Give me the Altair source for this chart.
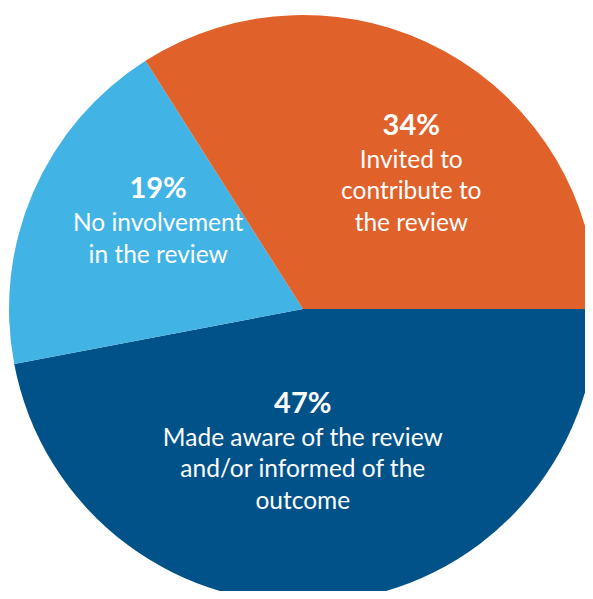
import math
import altair as alt
import pandas as pd

# Slices in drawing order (clockwise from 3 o'clock)
categories = ["Made aware", "No involvement", "Invited"]
values = [47, 19, 34]
descriptions = [
    "Made aware of the review\nand/or informed of the\noutcome",
    "No involvement\nin the review",
    "Invited to\ncontribute to\nthe review",
]
colors = ["#005289", "#41B3E5", "#E0612A"]

df = pd.DataFrame({
    "category": categories,
    "value": values,
    "pct": [f"{v}%" for v in values],
    "desc": descriptions,
})

CX, CY, R = 295, 301, 294
FONT = "Lato"

theta_scale = alt.Scale(domain=[0, 100], range=[math.pi / 2, math.pi / 2 + 2 * math.pi])
color_scale = alt.Scale(domain=categories, range=colors)

arcs = alt.Chart().mark_arc(radius=R, stroke=None).encode(
    x=alt.value(CX),
    y=alt.value(CY),
    theta=alt.Theta("start:Q", scale=theta_scale),
    theta2="end:Q",
    color=alt.Color("category:N", scale=color_scale, legend=None),
)

# label placement style per slice: (radius, dx, dy)
placement = {
    "Made aware": (104, -10, 0),
    "No involvement": (160, 2, -47),
    "Invited": (175, 24, -21),
}

layers = [arcs]
for cat in categories:
    rad, dx, dy = placement[cat]
    base = alt.Chart().transform_filter(alt.datum.category == cat)
    enc = dict(
        x=alt.value(CX),
        y=alt.value(CY),
        theta=alt.Theta("mid:Q", scale=theta_scale),
    )
    pct = base.mark_text(
        radius=rad, dx=dx, dy=dy, font=FONT, fontSize=29, fontWeight="bold",
        color="white", align="center", baseline="alphabetic",
    ).encode(text="pct:N", **enc)
    desc = base.mark_text(
        radius=rad, dx=dx, dy=dy + 33, font=FONT, fontSize=24.5,
        color="white", align="center", baseline="alphabetic",
        lineBreak="\n", lineHeight=31.5,
    ).encode(text="desc:N", **enc)
    layers += [pct, desc]

chart = alt.layer(*layers, data=df).transform_window(
    end="sum(value)", frame=[None, 0]
).transform_calculate(
    start="datum.end - datum.value",
    mid="datum.end - datum.value / 2",
).properties(
    width=577, height=583, padding=0, autosize=alt.AutoSizeParams(type="none")
).configure_view(stroke=None)

chart.save("out.html", embed_options={"renderer": "svg", "actions": False})
